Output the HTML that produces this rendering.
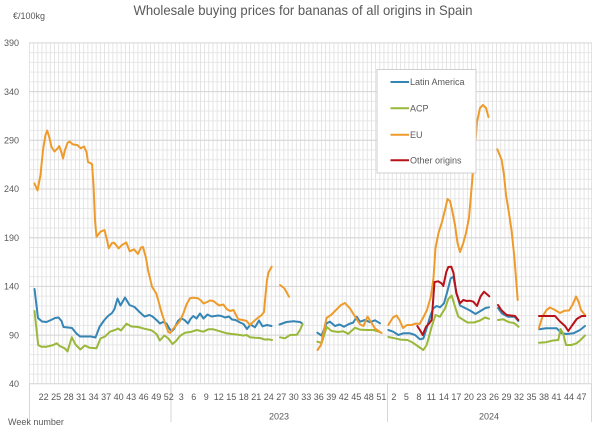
<!DOCTYPE html>
<html><head><meta charset="utf-8"><style>
html,body{margin:0;padding:0;background:#fff;}
svg{display:block;}
text{font-family:"Liberation Sans",Arial,sans-serif;fill:#595959;}
</style></head><body>
<svg width="600" height="436" viewBox="0 0 600 436" xmlns="http://www.w3.org/2000/svg">
<defs>
<pattern id="vg" x="29" y="0" width="4.1704" height="20" patternUnits="userSpaceOnUse">
<rect x="0" y="0" width="0.9" height="20" fill="#e2e2e2"/>
</pattern>
<pattern id="hg" x="0" y="42.4" width="20" height="9.7429" patternUnits="userSpaceOnUse">
<rect x="0" y="0" width="20" height="0.9" fill="#e6e6e6"/>
</pattern>
</defs>
<rect width="600" height="436" fill="#fff"/>
<text x="303" y="15" font-size="14" text-anchor="middle" textLength="339" lengthAdjust="spacingAndGlyphs">Wholesale buying prices for bananas of all origins in Spain</text>
<text x="13" y="19" font-size="9">€/100kg</text>

<rect x="29" y="43" width="563" height="341" fill="url(#hg)"/>
<rect x="29" y="43" width="563" height="341" fill="url(#vg)"/>
<line x1="591.5" y1="43" x2="591.5" y2="384" stroke="#e2e2e2"/>
<g stroke="#d6d6d6" stroke-width="1">
<line x1="29" y1="42.9" x2="592" y2="42.9"/>
<line x1="29" y1="91.6" x2="592" y2="91.6"/>
<line x1="29" y1="140.3" x2="592" y2="140.3"/>
<line x1="29" y1="189.0" x2="592" y2="189.0"/>
<line x1="29" y1="237.7" x2="592" y2="237.7"/>
<line x1="29" y1="286.4" x2="592" y2="286.4"/>
<line x1="29" y1="335.1" x2="592" y2="335.1"/>
<line x1="29" y1="383.8" x2="592" y2="383.8"/>
<line x1="29.5" y1="384" x2="29.5" y2="422"/>
<line x1="171" y1="384" x2="171" y2="422"/>
<line x1="387.5" y1="384" x2="387.5" y2="422"/>
<line x1="591.5" y1="384" x2="591.5" y2="422"/>
</g>

<g font-size="9" text-anchor="end">
<text x="19" y="46.1">390</text>
<text x="19" y="94.8">340</text>
<text x="19" y="143.5">290</text>
<text x="19" y="192.2">240</text>
<text x="19" y="240.9">190</text>
<text x="19" y="289.6">140</text>
<text x="19" y="338.3">90</text>
<text x="19" y="387">40</text>
</g>

<g font-size="9" text-anchor="middle">
<text x="43.6" y="400">22</text><text x="56.1" y="400">25</text><text x="68.6" y="400">28</text><text x="81.1" y="400">31</text><text x="93.6" y="400">34</text><text x="106.1" y="400">37</text><text x="118.6" y="400">40</text><text x="131.1" y="400">43</text><text x="143.6" y="400">46</text><text x="156.2" y="400">49</text><text x="168.7" y="400">52</text>
<text x="181.2" y="400">3</text><text x="193.7" y="400">6</text><text x="206.2" y="400">9</text><text x="218.7" y="400">12</text><text x="231.2" y="400">15</text><text x="243.7" y="400">18</text><text x="256.3" y="400">21</text><text x="268.8" y="400">24</text><text x="281.3" y="400">27</text><text x="293.8" y="400">30</text><text x="306.3" y="400">33</text><text x="318.8" y="400">36</text><text x="331.3" y="400">39</text><text x="343.8" y="400">42</text><text x="356.3" y="400">45</text><text x="368.8" y="400">48</text><text x="381.4" y="400">51</text>
<text x="393.9" y="400">2</text><text x="406.4" y="400">5</text><text x="418.9" y="400">8</text><text x="431.4" y="400">11</text><text x="443.9" y="400">14</text><text x="456.4" y="400">17</text><text x="468.9" y="400">20</text><text x="481.4" y="400">23</text><text x="494.0" y="400">26</text><text x="506.5" y="400">29</text><text x="519.0" y="400">32</text><text x="531.5" y="400">35</text><text x="544.0" y="400">38</text><text x="556.5" y="400">41</text><text x="569.0" y="400">44</text><text x="581.5" y="400">47</text>
<text x="279" y="419.5">2023</text>
<text x="489" y="419.5">2024</text>
</g>
<text x="8" y="425" font-size="9">Week number</text>

<g fill="none" stroke-width="2" stroke-linejoin="round" stroke-linecap="round">
<!-- Latin America -->
<g stroke="#3585b5">
<polyline points="34.5,289 38,318 42,321.5 46.5,322 51,320 55,318 58.5,317.5 61.5,321 63.5,327 68,327.5 72,328 76,333 80,336.5 86,336.5 91,336.5 95.5,337.5 99.5,327 104,320.5 108,316 112,313 114.5,309 117.5,298.5 120.5,305.5 125,297.5 129.5,305 134.5,307 139.5,312 144.5,316.5 149.5,315 152.5,316.5 156.5,320 160,323.5 163,322 166.5,323.5 169,328 171.5,331.5 174,329 178,321 181,318.3 184.5,320 188,323.5 190.5,319 193.3,316 196.5,318.5 200,313.5 203.5,318.5 207.5,314.5 211.5,316.5 215,316 218.3,315.5 221.5,316 225,317.5 229,316.5 232,319.5 235.5,320 240,322.5 243.5,324 247,329 250.5,324.5 255,327.3 259,320.5 262.5,326.3 267,325 271.5,326"/>
<polyline points="279.5,324.5 286.5,322 293.5,321.3 300,322 302,323.3"/>
<polyline points="317.3,332.7 321.5,335.5 326.5,323.3 330,321.7 335,326 339.5,324.5 344,326.7 349,324 353.3,322.5 356.7,316.7 360,321.7 365,320 370,322.2 375,320.3 380,323.3"/>
<polyline points="388.3,330 393.3,331.7 398.3,335 403.3,333.3 410,333.3 415,335 420,339.3 423.3,338.5 426.7,328.3 430,316.7 433.3,308.3 436.7,306 440,307.3 444,303.3 447.3,291.7 450.7,278.3 453.3,276.7 456.5,293 460,305.5 465,308 470,310.5 475.5,314 480.5,311 485.5,308 489,307.3"/>
<polyline points="498,308 502,313.5 508,316.7 514.5,316.7 518.3,321"/>
<polyline points="539.3,329.3 546,328.3 556.7,328.3 561.7,333.3 566.7,334 573.3,333.3 580,330 585,326"/>
</g>
<!-- ACP -->
<g stroke="#9ab83c">
<polyline points="34.5,311 38.2,345 41.3,346.7 46.7,346.7 53.3,345 56.7,343.3 59.7,346 64.7,348.3 67.5,351.5 71.8,337.3 75.5,344.5 80.3,349.5 84.8,345.5 89.8,347.8 96.5,348.3 100.5,338.5 105,336.5 110,331.7 115,330 118,328.5 121,330.5 126.5,323.7 131.5,326.5 138.2,327 144.8,328.8 151.5,330.3 156.5,334 159.8,340.5 164.3,335.5 168.2,338.3 172.5,344 176,341 180,336 185,332.7 191.7,331.7 196.7,330 203.3,331.7 208.3,329.3 213.3,329.3 220,331.3 226.7,333.3 231.7,334 236.7,334.5 243.3,335.5 246.7,335 250,337.3 255,337.8 260,338 265,339.6 268.3,339.3 272,340"/>
<polyline points="280,337.3 285,338.3 290,335 297,334.7 300,330 302.7,324"/>
<polyline points="317.3,341.7 321.7,343 326.7,327 331.7,331 338.3,332 343.3,331.3 348.3,333.8 355,327.8 360,329.6 366.7,330 373.3,330 380,332"/>
<polyline points="388.3,337 395,338.3 400.5,339.6 407.5,340 412.5,342.5 418.3,346.5 423.3,350 426.7,345 431.7,326.7 435.5,315 440,316.7 445,308.5 448.3,299 451.7,295.5 455,306.7 458.3,316.7 462.7,319.5 467.5,322.5 474,322.5 480,320.5 485,317.5 489,318.8"/>
<polyline points="498,320 503.3,319.3 509,322.2 514,323 518.5,326.7"/>
<polyline points="539,342.7 546,342.2 553,340.5 558.3,340 560.5,329 563.3,334 566,345 571.5,345 576.5,343.3 580,340.5 585,335.5"/>
</g>
<!-- EU -->
<g stroke="#ee9b2c">
<polyline points="34.5,183.5 37.5,190.5 40.5,175 43,150 45.5,135 47.2,130.5 49.5,138 51.5,147 54.5,151.5 57.5,148.5 59.2,146 61,151 63,158.5 65,150 67.5,143 69.5,141.5 73,144.5 77.3,145 80.7,148.3 84,146.5 86.5,152 88,162 92,164 93.5,185 95,220 96.5,236.7 100.5,231.7 104.5,230 107,240 108.7,248.3 112,243 114,242.7 118.7,248.3 122,245 126.3,242.5 129.7,251.3 134,249.3 138,254 141,247.5 143,247 146,258 148,270 152,286.7 156.3,293.5 159,303 161.3,311.7 165,323 168.3,332 170,333 173,329 176.5,325 180,321 183.5,313 186.7,304 190,298.3 193.3,297.8 198,298.3 201,300.5 203.5,303.5 207,302 210,300.5 213.3,301 216.5,303.5 219.3,305.5 223.3,304.5 226.7,309 230,311 233.5,310 236,315 238.3,319.3 242.7,320 246.7,321 250,325 253.3,321.7 257.3,318.3 261.7,315 264,312 265.5,295 267,280 268.5,272.5 271.7,266.7"/>
<polyline points="280,285 284.5,288.5 289,296.7"/>
<polyline points="317.5,350 321,345 324,330 326.5,318 331,315 336,310 341,305 345,303 350,308.5 355,316.5 360,324.5 363.5,326 367.5,316.5 371,322 375,328.5 381.5,333"/>
<polyline points="388.3,325 393,317.5 396.5,315.5 399.5,320 403,328 407,325 411.5,325 416,323.5 419.5,324 423,318 427,310 431,296 433.5,278 435.5,248 438.5,233 442,222 445,210 447.5,199 450,201 452.5,212 455,225 457.5,243 460,252 463,244 466,233 469,218 472,183 474.5,155 477,122 480,108 483,105 486,108 488.5,117"/>
<polyline points="497.3,149.3 501.7,160 504,175 506,195 508.5,210 511.5,230 514.3,256.7 516,278 517.7,300"/>
<polyline points="538.8,328.3 542.5,316.5 546.5,310 550,307.5 555,310 560,313 564.5,310.7 569,310.5 572.5,305 576,296.5 578.5,301.5 581,310 585,315"/>
</g>
<!-- Other origins -->
<g stroke="#b81218">
<polyline points="417.3,326 420.5,331 422.7,335 426,326.7 429.3,323.3 431.7,320 434.5,282 438.3,281.3 441.7,283.5 443.3,286 446.3,272 448.3,267 451.3,266.7 453.5,273 456.3,293 460,303.3 463.3,300 466.7,301 470,300.7 473.3,301.7 477,306 480.5,296.5 484,291.7 486.7,294 489.3,296.3"/>
<polyline points="498,305 501.7,310.5 506.7,315 515,316 518.3,320"/>
<polyline points="539,316 555,316 560,321.5 565,326 568.3,331 571.7,326 576.7,319 581.7,316 585.3,316"/>
</g>
</g>

<!-- Legend -->
<rect x="377" y="69.5" width="99" height="103.5" fill="#fff" stroke="#cfcfcf" stroke-width="1"/>
<g stroke-width="2">
<line x1="390.5" y1="82" x2="409" y2="82" stroke="#3585b5"/>
<line x1="390.5" y1="108.3" x2="409" y2="108.3" stroke="#9ab83c"/>
<line x1="390.5" y1="134.7" x2="409" y2="134.7" stroke="#ee9b2c"/>
<line x1="390.5" y1="160.3" x2="409" y2="160.3" stroke="#b81218"/>
</g>
<g font-size="9">
<text x="410" y="85.2">Latin America</text>
<text x="410" y="111.5">ACP</text>
<text x="410" y="137.9">EU</text>
<text x="410" y="163.5">Other origins</text>
</g>
</svg>
</body></html>
